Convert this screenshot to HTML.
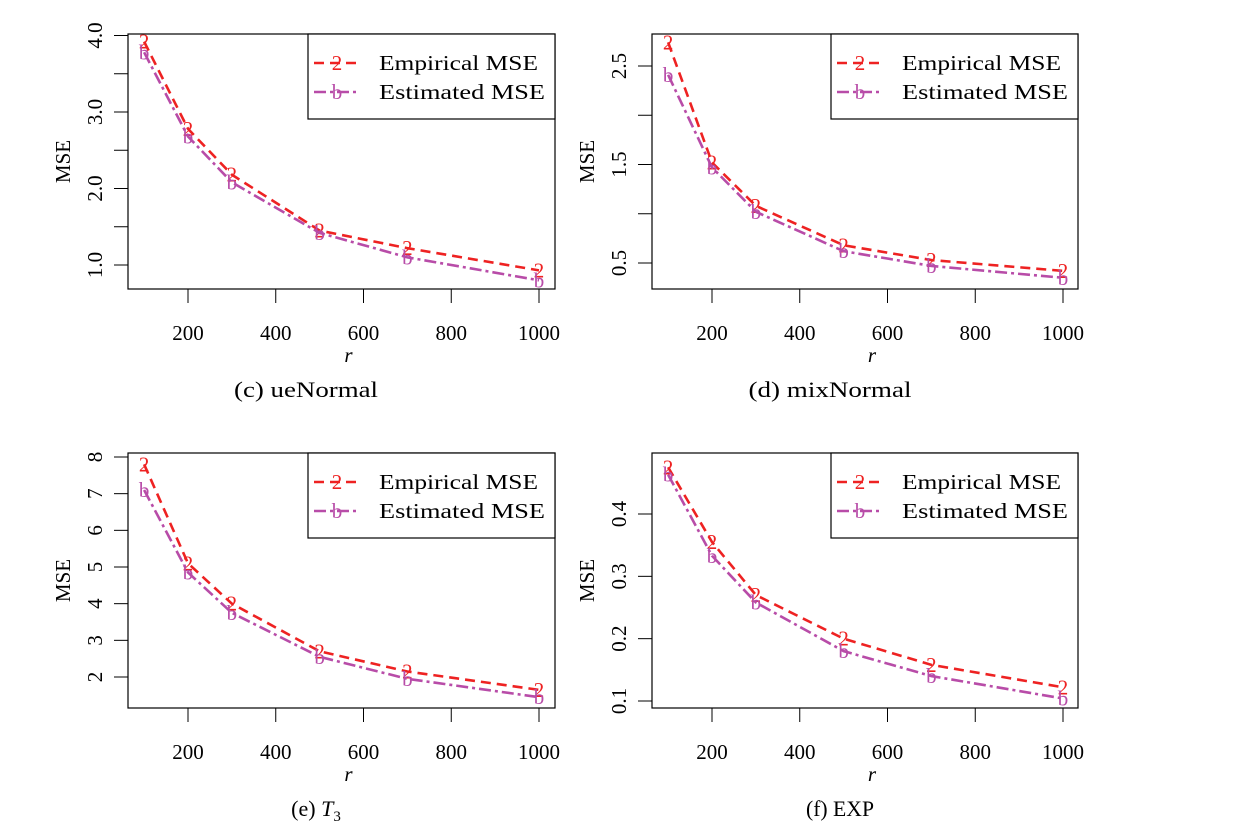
<!DOCTYPE html>
<html><head><meta charset="utf-8"><style>
body{margin:0;background:#fff}
svg text{font-family:"Liberation Serif",serif}
</style></head><body>
<svg id="svg" width="1250" height="832" xmlns="http://www.w3.org/2000/svg"></svg>
<script>
const xVals=[100,200,300,500,700,1000];
const xTicks=[200,400,600,800,1000];
const empC=[3.92,2.78,2.18,1.45,1.22,0.93];
const estC=[3.78,2.68,2.08,1.42,1.10,0.80];
const empD=[2.74,1.52,1.08,0.68,0.53,0.42];
const estD=[2.41,1.47,1.02,0.62,0.47,0.35];
const empE=[7.8,5.1,4.0,2.7,2.15,1.65];
const estE=[7.1,4.85,3.75,2.55,1.95,1.45];
const empF=[0.475,0.355,0.27,0.2,0.158,0.122];
const estF=[0.463,0.333,0.258,0.18,0.14,0.104];
const yTicksC=["1.0","2.0","3.0","4.0"], yMinorC=[1.5,2.5,3.5];
const yTicksD=["0.5","1.5","2.5"], yMinorD=[1.0,2.0];
const yTicksE=["2","3","4","5","6","7","8"];
const yTicksF=["0.1","0.2","0.3","0.4"];
const panels=[
 {id:"c",x0:128,x1:555,y0:34,y1:289,ya:1,ypa:265,yb:3,ypb:112,emp:empC,est:estC,ticks:yTicksC,minor:yMinorC,cap:"(c) ueNormal",cx:306,cw:144},
 {id:"d",x0:652,x1:1078,y0:34,y1:289,ya:0.5,ypa:263,yb:2.5,ypb:66,emp:empD,est:estD,ticks:yTicksD,minor:yMinorD,cap:"(d) mixNormal",cx:830,cw:163},
 {id:"e",x0:128,x1:555,y0:453,y1:708,ya:2,ypa:677,yb:8,ypb:457,emp:empE,est:estE,ticks:yTicksE,minor:[],cap:"(e) T3",cx:316,cw:0},
 {id:"f",x0:652,x1:1078,y0:453,y1:708,ya:0.1,ypa:701,yb:0.4,ypb:514,emp:empF,est:estF,ticks:yTicksF,minor:[],cap:"(f) EXP",cx:840,cw:68}];
const svg=document.getElementById('svg');
const NS="http://www.w3.org/2000/svg";
function mk(tag,at,parent,txt){const e=document.createElementNS(NS,tag);for(const k in at)e.setAttribute(k,at[k]);if(txt!==undefined)e.textContent=txt;(parent||svg).appendChild(e);return e;}
panels.forEach(p=>{
 const g=mk('g',{});
 
 
 const dx=p.x0-128;
 const sx=v=>188+dx+(v-200)*(351/800);
 const sy=v=>p.ypa+(v-p.ya)*(p.ypb-p.ypa)/(p.yb-p.ya);
 const box=mk('rect',{x:p.x0,y:p.y0,width:p.x1-p.x0,height:p.y1-p.y0,fill:'none',stroke:'#000','stroke-width':1.2},g);
 
 
 xTicks.forEach(t=>{
  mk('line',{x1:sx(t),x2:sx(t),y1:p.y1,y2:p.y1+14,stroke:'#000'},g);
  const tl=mk('text',{x:sx(t),y:p.y1+51,'text-anchor':'middle','font-size':21},g,String(t));
  
  
 });
 p.ticks.forEach(t=>{
  const v=parseFloat(t),y=sy(v);
  mk('line',{x1:p.x0,x2:p.x0-14,y1:y,y2:y,stroke:'#000'},g);
  const tl=mk('text',{x:p.x0-26,y:y,'text-anchor':'middle','font-size':21,transform:`rotate(-90 ${p.x0-26} ${y})`},g,t);
  
  
 });
 p.minor.forEach(v=>{const y=sy(v);mk('line',{x1:p.x0,x2:p.x0-14,y1:y,y2:y,stroke:'#000'},g);});
 const yc=(p.y0+p.y1)/2;
 const yt=mk('text',{x:p.x0-58,y:yc,'text-anchor':'middle','font-size':21,transform:`rotate(-90 ${p.x0-58} ${yc})`},g,"MSE");
 
 
 const xt=mk('text',{x:(p.x0+p.x1)/2+7,y:p.y1+73,'text-anchor':'middle','font-size':21,'font-style':'italic'},g,"r");
 
 
 let cap;
 if(p.id==="e"){cap=mk('text',{x:p.cx,y:p.y1+108,'text-anchor':'middle','font-size':22},g);
  mk('tspan',{},cap,"(e) ");mk('tspan',{'font-style':'italic'},cap,"T");mk('tspan',{'font-size':15,dy:5},cap,"3");}
 else cap=mk('text',{x:p.cx,y:p.y1+108,'text-anchor':'middle','font-size':22,textLength:p.cw,lengthAdjust:'spacingAndGlyphs'},g,p.cap);
 
 
 const series=[{d:p.emp,c:'#ee2222',dash:'10,6',m:'2',n:'empirical-mse-line'},{d:p.est,c:'#b84ca8',dash:'12,4,3,4',m:'b',n:'estimated-mse-line'}];
 series.forEach(s=>{
  const pl=mk('polyline',{points:xVals.map((x,i)=>sx(x)+','+sy(s.d[i])).join(' '),fill:'none',stroke:s.c,'stroke-width':2.6,'stroke-dasharray':s.dash},g);
  
  
  xVals.forEach((x,i)=>{
   const m=mk('text',{x:sx(x),y:sy(s.d[i])+7,'text-anchor':'middle','font-size':21,style:'fill:'+s.c},g,s.m);
   
   
  });
 });
 const lg=mk('g',{},g);
 
 
 const lx=p.x1-247;
 mk('rect',{x:lx,y:p.y0,width:247,height:85,fill:'#fff',stroke:'#000','stroke-width':1.2},lg);
 series.forEach((s,i)=>{
  const y=p.y0+29+i*29;
  mk('line',{x1:lx+6,x2:lx+52,y1:y,y2:y,stroke:s.c,'stroke-width':2.6,'stroke-dasharray':s.dash},lg);
  mk('text',{x:lx+29,y:y+7,'text-anchor':'middle','font-size':21,style:'fill:'+s.c},lg,s.m);
  const t=mk('text',{x:lx+71,y:y+7,'font-size':21,textLength:i?166:159,lengthAdjust:'spacingAndGlyphs'},lg,i?"Estimated MSE":"Empirical MSE");
  
  
 });
});
</script>
</body></html>
